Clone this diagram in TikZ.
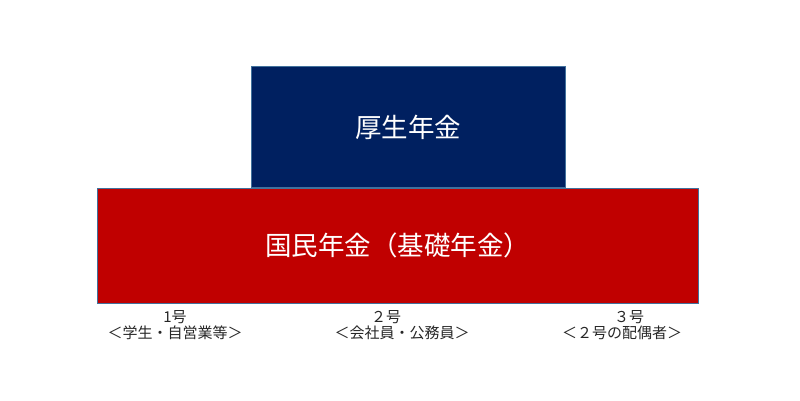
\documentclass[tikz,border=0pt]{standalone}
\usepackage{fontspec}
\setmainfont{Noto Sans CJK JP}
\usetikzlibrary{calc, positioning}
\definecolor{koseiblue}{HTML}{002060}
\definecolor{kokuminred}{HTML}{C00000}
\definecolor{edgeblue}{HTML}{41719C}
\definecolor{labelgray}{HTML}{262626}

\begin{document}
\begin{tikzpicture}[x = 1pt, y = -1pt,
  tier/.style = {draw = edgeblue, line width = .8pt, text = white, inner sep = 0pt,
    font = \fontsize{26.5}{30}\selectfont},
  kind/.style = {font = \fontsize{15}{16}\selectfont, text = labelgray, inner sep = 0pt}]
\useasboundingbox (0,0) rectangle (800,401);
\node[tier, fill = kokuminred, minimum width = 601pt, minimum height = 115pt] (kokumin) at (397.5,245.5) {国民年金（基礎年金）};
\node[tier, fill = koseiblue, minimum width = 314pt, minimum height = 121pt, anchor = south] (kosei) at (408,188) {厚生年金};
\node[kind] (first) at (175,317) {1号};
\node[kind] (second) at (386,317) {２号};
\node[kind] (third) at (629,317) {３号};
\node[kind] (firstwho) at (175,333) {＜学生・自営業等＞};
\node[kind] (secondwho) at (402,333) {＜会社員・公務員＞};
\node[kind] (thirdwho) at (622,333) {＜２号の配偶者＞};
\end{tikzpicture}
\end{document}
